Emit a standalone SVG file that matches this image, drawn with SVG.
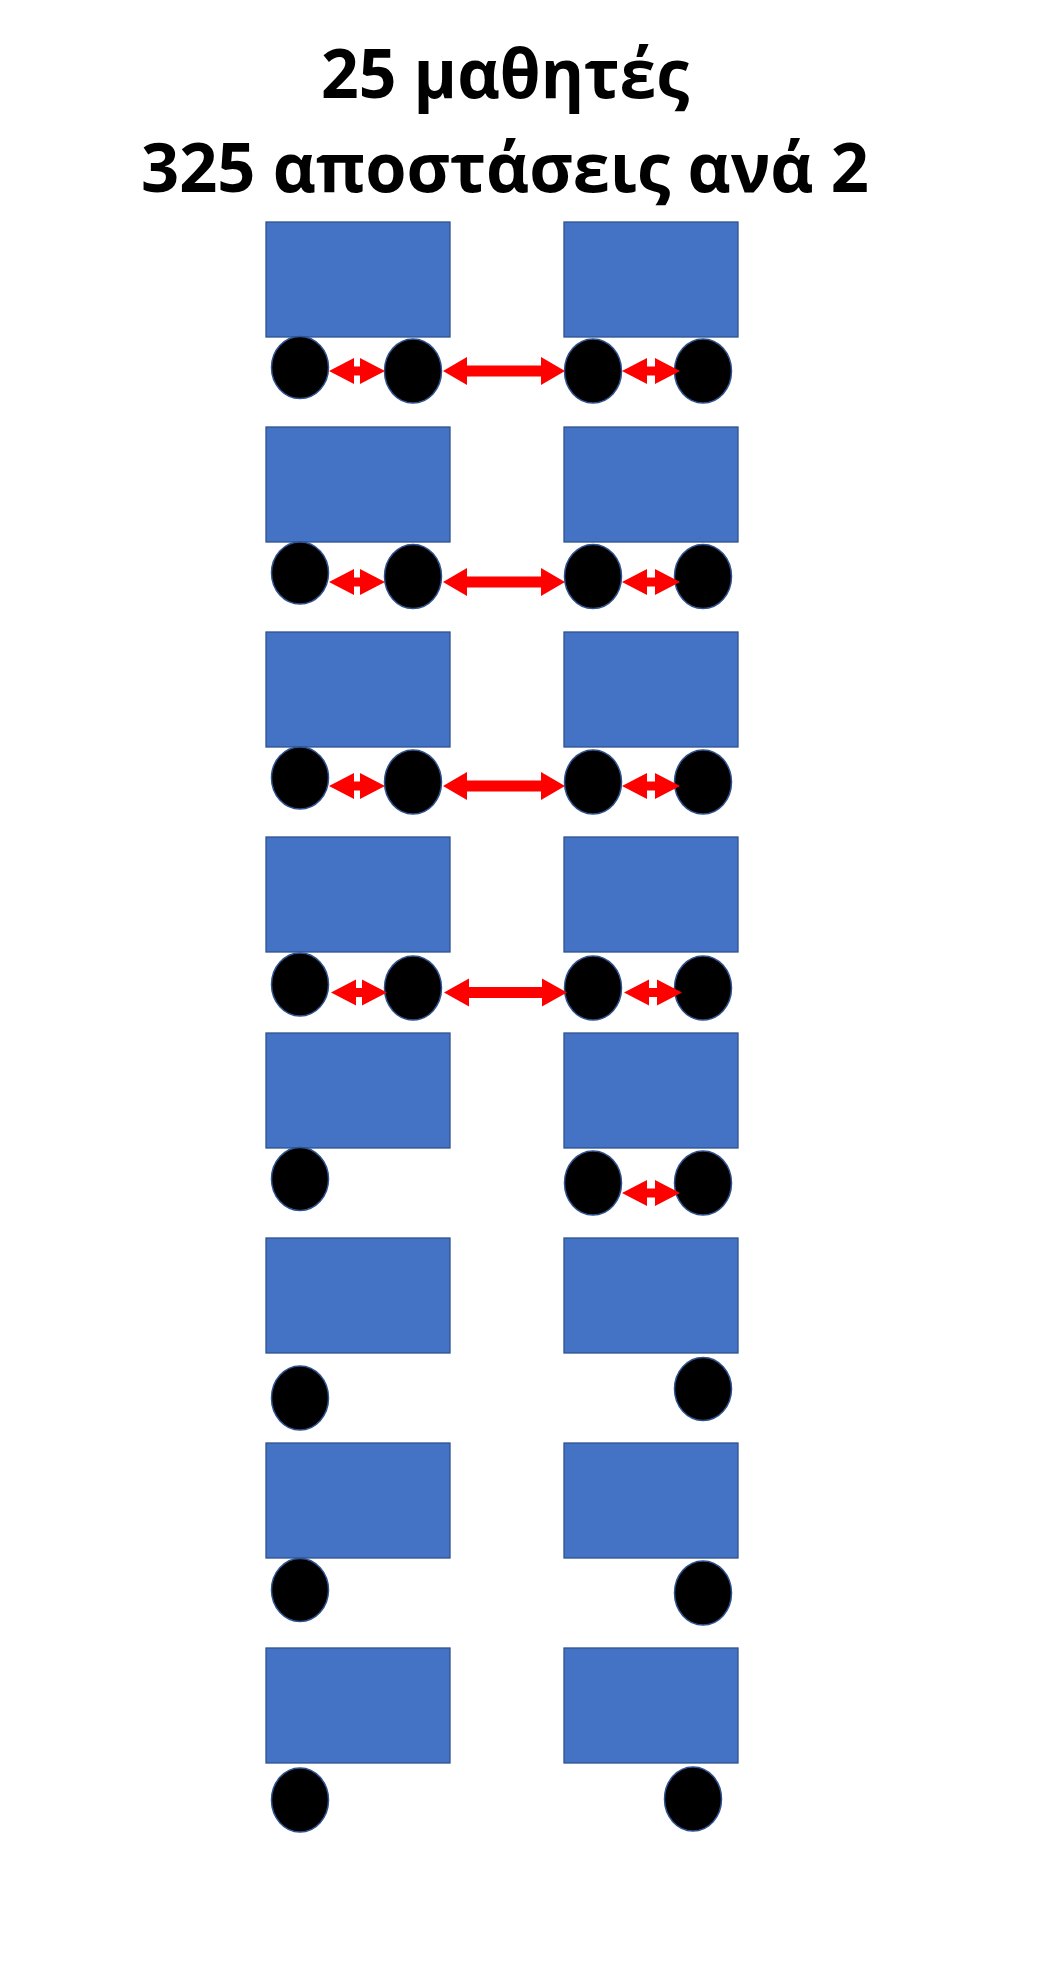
<svg xmlns="http://www.w3.org/2000/svg" width="1056" height="1968" viewBox="0 0 1056 1968">
<style>
.title{font-family:"Open Sans","Noto Sans","DejaVu Sans",sans-serif;font-weight:700;font-size:68px;fill:#000}
.desk{fill:#4472C4;stroke:#2F528F;stroke-width:1.3}
.st{fill:#000;stroke:#2F528F;stroke-width:1.5}
.arr{fill:#FF0000;stroke:none}
</style>
<rect width="1056" height="1968" fill="#fff"/>
<g id="title">
<text class="title" x="321" y="98" textLength="368" lengthAdjust="spacingAndGlyphs">25 μαθητές</text>
<text class="title" x="141" y="192" textLength="728" lengthAdjust="spacingAndGlyphs">325 αποστάσεις ανά 2</text>
</g>
<g id="desks">
<g id="desk-1L"><rect class="desk" x="266" y="222" width="184" height="115"/></g>
<g id="desk-1R"><rect class="desk" x="564" y="222" width="174" height="115"/></g>
<g id="desk-2L"><rect class="desk" x="266" y="427" width="184" height="115"/></g>
<g id="desk-2R"><rect class="desk" x="564" y="427" width="174" height="115"/></g>
<g id="desk-3L"><rect class="desk" x="266" y="632" width="184" height="115"/></g>
<g id="desk-3R"><rect class="desk" x="564" y="632" width="174" height="115"/></g>
<g id="desk-4L"><rect class="desk" x="266" y="837" width="184" height="115"/></g>
<g id="desk-4R"><rect class="desk" x="564" y="837" width="174" height="115"/></g>
<g id="desk-5L"><rect class="desk" x="266" y="1033" width="184" height="115"/></g>
<g id="desk-5R"><rect class="desk" x="564" y="1033" width="174" height="115"/></g>
<g id="desk-6L"><rect class="desk" x="266" y="1238" width="184" height="115"/></g>
<g id="desk-6R"><rect class="desk" x="564" y="1238" width="174" height="115"/></g>
<g id="desk-7L"><rect class="desk" x="266" y="1443" width="184" height="115"/></g>
<g id="desk-7R"><rect class="desk" x="564" y="1443" width="174" height="115"/></g>
<g id="desk-8L"><rect class="desk" x="266" y="1648" width="184" height="115"/></g>
<g id="desk-8R"><rect class="desk" x="564" y="1648" width="174" height="115"/></g>
</g>
<g id="students">
<g id="s1a"><ellipse class="st" cx="300" cy="367.5" rx="28.5" ry="31"/></g>
<g id="s1b"><ellipse class="st" cx="413" cy="371" rx="28.5" ry="32"/></g>
<g id="s1c"><ellipse class="st" cx="593" cy="371" rx="28.5" ry="32"/></g>
<g id="s1d"><ellipse class="st" cx="703" cy="371" rx="28.5" ry="32"/></g>
<g id="s2a"><ellipse class="st" cx="300" cy="573" rx="28.5" ry="31"/></g>
<g id="s2b"><ellipse class="st" cx="413" cy="576.5" rx="28.5" ry="32"/></g>
<g id="s2c"><ellipse class="st" cx="593" cy="576.5" rx="28.5" ry="32"/></g>
<g id="s2d"><ellipse class="st" cx="703" cy="576.5" rx="28.5" ry="32"/></g>
<g id="s3a"><ellipse class="st" cx="300" cy="778" rx="28.5" ry="31"/></g>
<g id="s3b"><ellipse class="st" cx="413" cy="782" rx="28.5" ry="32"/></g>
<g id="s3c"><ellipse class="st" cx="593" cy="782" rx="28.5" ry="32"/></g>
<g id="s3d"><ellipse class="st" cx="703" cy="782" rx="28.5" ry="32"/></g>
<g id="s4a"><ellipse class="st" cx="300" cy="984.5" rx="28.5" ry="31.5"/></g>
<g id="s4b"><ellipse class="st" cx="413" cy="988" rx="28.5" ry="32"/></g>
<g id="s4c"><ellipse class="st" cx="593" cy="988" rx="28.5" ry="32"/></g>
<g id="s4d"><ellipse class="st" cx="703" cy="988" rx="28.5" ry="32"/></g>
<g id="s5a"><ellipse class="st" cx="300" cy="1179" rx="28.5" ry="31.5"/></g>
<g id="s5c"><ellipse class="st" cx="593" cy="1183" rx="28.5" ry="32"/></g>
<g id="s5d"><ellipse class="st" cx="703" cy="1183" rx="28.5" ry="32"/></g>
<g id="s6a"><ellipse class="st" cx="300" cy="1398" rx="28.5" ry="32"/></g>
<g id="s6d"><ellipse class="st" cx="703" cy="1389" rx="28.5" ry="31.5"/></g>
<g id="s7a"><ellipse class="st" cx="300" cy="1590" rx="28.5" ry="31.5"/></g>
<g id="s7d"><ellipse class="st" cx="703" cy="1593" rx="28.5" ry="32"/></g>
<g id="s8a"><ellipse class="st" cx="300" cy="1800" rx="28.5" ry="32"/></g>
<g id="s8d"><ellipse class="st" cx="693" cy="1799" rx="28.5" ry="32"/></g>
</g>
<g id="connectors">
<polygon class="arr" points="329,371 354,358 354,366.5 360,366.5 360,358 385,371 360,384 360,375.5 354,375.5 354,384"/>
<polygon class="arr" points="443,371 467,357 467,365.5 541,365.5 541,357 565,371 541,385 541,376.5 467,376.5 467,385"/>
<polygon class="arr" points="622,371 647,358 647,366.5 655,366.5 655,358 680,371 655,384 655,375.5 647,375.5 647,384"/>

<polygon class="arr" points="329,582 354,569 354,577.5 360,577.5 360,569 385,582 360,595 360,586.5 354,586.5 354,595"/>
<polygon class="arr" points="443,582 467,568 467,576.5 541,576.5 541,568 565,582 541,596 541,587.5 467,587.5 467,596"/>
<polygon class="arr" points="622,582 647,569 647,577.5 655,577.5 655,569 680,582 655,595 655,586.5 647,586.5 647,595"/>

<polygon class="arr" points="329,786 354,773 354,781.5 360,781.5 360,773 385,786 360,799 360,790.5 354,790.5 354,799"/>
<polygon class="arr" points="443,786 467,772 467,780.5 541,780.5 541,772 565,786 541,800 541,791.5 467,791.5 467,800"/>
<polygon class="arr" points="622,786 647,773 647,781.5 655,781.5 655,773 680,786 655,799 655,790.5 647,790.5 647,799"/>

<polygon class="arr" points="331,992.5 356,979.5 356,988 362,988 362,979.5 387,992.5 362,1005.5 362,997 356,997 356,1005.5"/>
<polygon class="arr" points="444,992.5 469,978.5 469,987 542,987 542,978.5 567,992.5 542,1006.5 542,998 469,998 469,1006.5"/>
<polygon class="arr" points="624,992.5 649,979.5 649,988 657,988 657,979.5 682,992.5 657,1005.5 657,997 649,997 649,1005.5"/>

<polygon class="arr" points="622,1193 647,1180 647,1188.5 655,1188.5 655,1180 680,1193 655,1206 655,1197.5 647,1197.5 647,1206"/>
</g>
</svg>
